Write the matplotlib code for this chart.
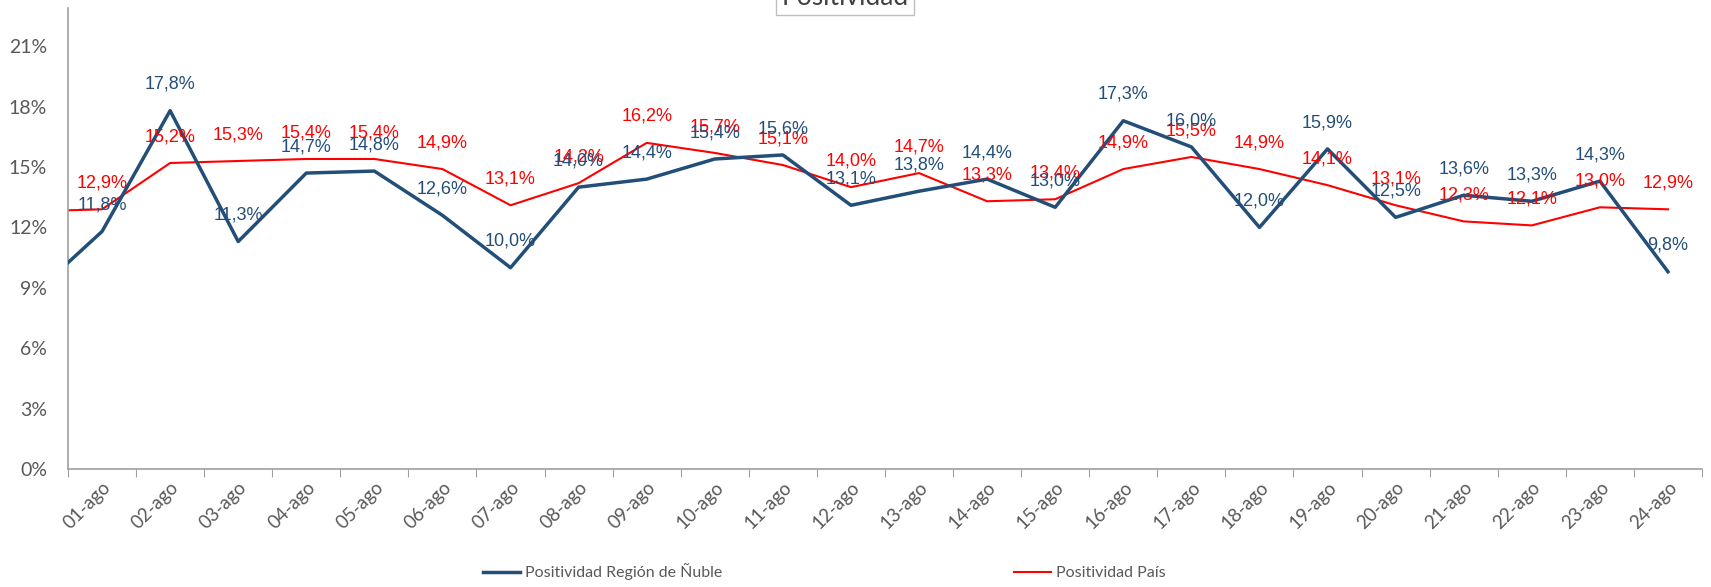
import matplotlib
matplotlib.use("Agg")
import matplotlib.pyplot as plt
from matplotlib.ticker import FixedLocator

# Data (values in %); first entry is 31-jul, only partly visible at the left edge
dias = ['31-jul'] + ['%02d-ago' % d for d in range(1, 25)]
nuble = [8.7, 11.8, 17.8, 11.3, 14.7, 14.8, 12.6, 10.0, 14.0, 14.4, 15.4, 15.6, 13.1,
         13.8, 14.4, 13.0, 17.3, 16.0, 12.0, 15.9, 12.5, 13.6, 13.3, 14.3, 9.8]
pais = [12.8, 12.9, 15.2, 15.3, 15.4, 15.4, 14.9, 13.1, 14.2, 16.2, 15.7, 15.1, 14.0,
        14.7, 13.3, 13.4, 14.9, 15.5, 14.9, 14.1, 13.1, 12.3, 12.1, 13.0, 12.9]
y_ticks = [0, 3, 6, 9, 12, 15, 18, 21]

azul = '#234E78'
rojo = '#FF0000'
gris = '#595959'
label_font = ['Liberation Sans', 'DejaVu Sans']

fig = plt.figure(figsize=(17.11, 5.87), dpi=100)
ax = fig.add_axes([68 / 1711, 1 - 469 / 587, (1702 - 68) / 1711, (469 - 8) / 587])

x = list(range(-1, len(dias) - 1))
ax.plot(x, nuble, color=azul, lw=2.5, label='Positividad Región de Ñuble', zorder=3)
ax.plot(x, pais, color=rojo, lw=1.5, label='Positividad País', zorder=2)

# data labels above the points (skip the clipped 31-jul point)
for xi, v in zip(x[1:], nuble[1:]):
    ax.annotate(f"{v:.1f}%".replace('.', ','), (xi, v), xytext=(0, 19), textcoords='offset points',
                ha='center', va='center', color=azul, fontsize=13, family=label_font, zorder=5)
for xi, v in zip(x[1:], pais[1:]):
    ax.annotate(f"{v:.1f}%".replace('.', ','), (xi, v), xytext=(0, 19), textcoords='offset points',
                ha='center', va='center', color=rojo, fontsize=13, family=label_font, zorder=4)

ax.set_xlim(-0.5, len(dias) - 1.5)
ax.set_ylim(0, 22.9)

# x axis: tick marks on category boundaries, labels at centers
n = len(dias) - 1
ax.xaxis.set_major_locator(FixedLocator([i - 0.5 for i in range(n + 1)]))
ax.xaxis.set_minor_locator(FixedLocator(list(range(n))))
ax.set_xticklabels([], minor=False)
ax.set_xticklabels(dias[1:], minor=True, rotation=45, ha='right', va='top',
                   rotation_mode='anchor', fontsize=13.5, color=gris, family='Lato')
ax.tick_params(axis='x', which='major', length=6, color='#A0A0A0', direction='out')
ax.tick_params(axis='x', which='minor', length=0, pad=7)

ax.set_yticks(y_ticks)
ax.set_yticklabels([f"{t}%" for t in y_ticks], fontsize=14, color=gris, family='Lato')
ax.tick_params(axis='y', length=0, pad=15)

for s in ['top', 'right']:
    ax.spines[s].set_visible(False)
for s in ['left', 'bottom']:
    ax.spines[s].set_color('#A0A0A0')
    ax.spines[s].set_linewidth(1.2)

fig.legend(loc='center left', bbox_to_anchor=(483 / 1711, 1 - 572 / 587), ncol=2, frameon=False,
           prop={'family': 'Lato', 'size': 11.5}, labelcolor=gris, handlelength=2.3,
           handletextpad=0.3, columnspacing=18.3, borderaxespad=0, borderpad=0)

# title box, cut off at the top of the image
fig.text(845 / 1711, 1 - 5 / 587, 'Positividad', ha='center', va='baseline', fontsize=19,
         color='#404040', family='Lato',
         bbox=dict(boxstyle='square,pad=0.2', fc='white', ec='#BFBFBF', lw=1))

fig.savefig('out.png', dpi=100)
